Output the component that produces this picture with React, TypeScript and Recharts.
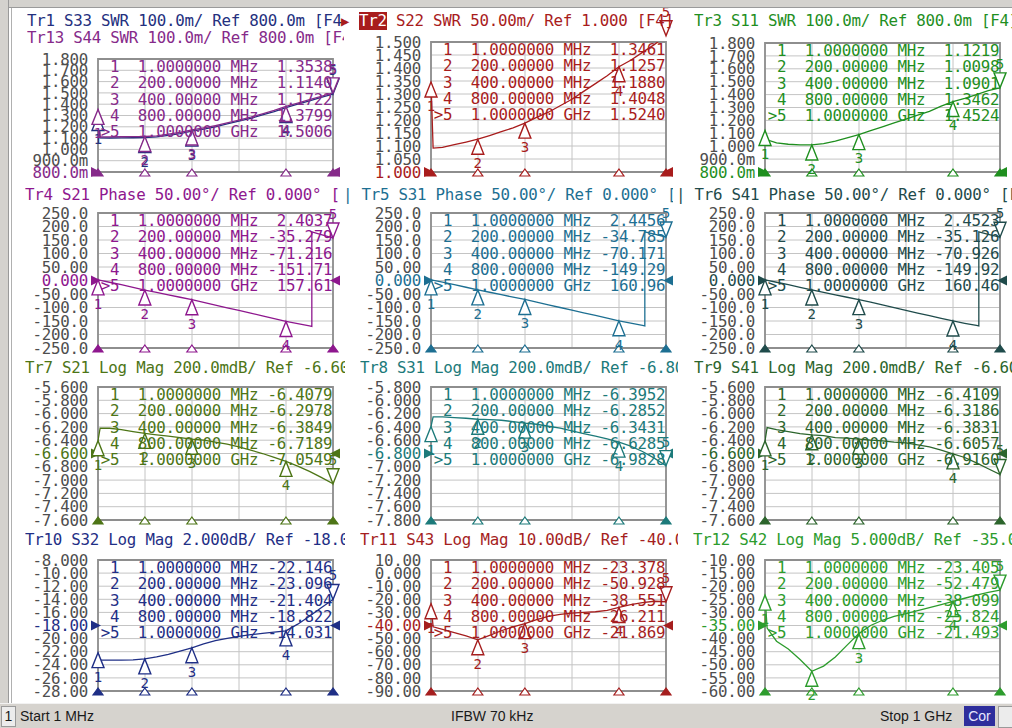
import React from 'react'
import { ComposedChart, Line, XAxis, YAxis, CartesianGrid, ReferenceArea, ReferenceDot } from 'recharts'

const MONO = '"DejaVu Sans Mono", monospace'
const SANS = '"Liberation Sans", Arial, sans-serif'
const FS = 15.8
const LS = -0.25
const CW = FS * 0.602 + LS

// sweep points, MHz
const freqs = [1, 10, 50, 100, 150, 200, 250, 300, 350, 400, 450, 500, 550, 600, 650, 700, 750, 800, 850, 900, 950, 1000]
const phaseFreqs = [1, 50, 100, 150, 200, 250, 300, 350, 400, 450, 500, 550, 600, 650, 700, 750, 800, 850, 900, 910, 910, 950, 1000]
const markerFreqs = [1, 200, 400, 800, 1000]
const markerFreqLabels = ['1.0000000 MHz', '200.00000 MHz', '400.00000 MHz', '800.00000 MHz', '1.0000000 GHz']
const xGrid = [1, 100.9, 200.8, 300.7, 400.6, 500.5, 600.4, 700.3, 800.2, 900.1, 1000]

// traces
const s33Swr = [1.30, 1.102, 1.101, 1.102, 1.103, 1.104, 1.11, 1.125, 1.14, 1.162, 1.18, 1.20, 1.225, 1.25, 1.275, 1.305, 1.335, 1.37, 1.40, 1.43, 1.46, 1.49]
const s44Swr = [1.354, 1.112, 1.111, 1.112, 1.113, 1.114, 1.12, 1.135, 1.15, 1.172, 1.19, 1.21, 1.235, 1.26, 1.285, 1.315, 1.345, 1.38, 1.41, 1.44, 1.47, 1.501]
const s22Swr = [1.346, 1.092, 1.095, 1.105, 1.115, 1.126, 1.14, 1.155, 1.17, 1.188, 1.21, 1.23, 1.255, 1.28, 1.31, 1.34, 1.37, 1.405, 1.43, 1.46, 1.49, 1.524]
const s11Swr = [1.122, 1.05, 1.025, 1.015, 1.01, 1.01, 1.02, 1.04, 1.065, 1.09, 1.12, 1.15, 1.18, 1.21, 1.24, 1.27, 1.31, 1.346, 1.37, 1.40, 1.43, 1.452]
const s21Phase = [2.4, -6.5, -15.5, -25.5, -35.3, -44, -53, -62, -71.2, -81, -91, -101, -111, -121, -131, -141, -151.7, -160, -168, -170, 180, 170, 157.6]
const s31Phase = [2.4, -6.3, -15.2, -25, -34.8, -43.5, -52.5, -61.5, -70.2, -80, -90, -100, -110, -120, -129.5, -139.5, -149.3, -158, -166, -168, 180, 172, 161]
const s41Phase = [2.5, -6.5, -15.5, -25.3, -35.1, -44, -53, -62, -70.9, -80.5, -90.5, -100.5, -110.5, -120.5, -130, -140, -149.9, -158.5, -166.5, -168.5, 180, 171, 160.5]
const s21Mag = [-6.408, -6.22, -6.22, -6.24, -6.27, -6.298, -6.32, -6.34, -6.36, -6.385, -6.40, -6.43, -6.46, -6.50, -6.55, -6.60, -6.66, -6.719, -6.79, -6.87, -6.96, -7.055]
const s31Mag = [-6.395, -6.25, -6.25, -6.26, -6.27, -6.285, -6.29, -6.30, -6.32, -6.343, -6.36, -6.39, -6.42, -6.46, -6.50, -6.54, -6.58, -6.629, -6.69, -6.77, -6.87, -6.983]
const s41Mag = [-6.411, -6.21, -6.24, -6.27, -6.30, -6.319, -6.33, -6.36, -6.37, -6.383, -6.40, -6.41, -6.43, -6.44, -6.47, -6.50, -6.55, -6.606, -6.66, -6.74, -6.83, -6.916]
const s32Mag = [-22.15, -23.3, -23.3, -23.3, -23.25, -23.1, -22.8, -22.4, -21.9, -21.4, -20.8, -20.3, -19.95, -19.65, -19.4, -19.2, -19.0, -18.82, -17.8, -16.6, -15.3, -14.03]
const s43Mag = [-23.38, -41, -43, -45.5, -48, -50.93, -47.5, -44, -41, -38.55, -35.5, -33, -31.5, -30.5, -30, -29.5, -28.5, -26.21, -24, -22.5, -21.5, -21.87]
const s42Mag = [-23.4, -36, -41, -44, -48, -52.48, -50.5, -47, -42.5, -38.1, -35, -33, -31.5, -30.5, -29.3, -28.2, -27, -25.82, -24.6, -23.4, -22.4, -21.49]

// marker readouts
const s33Markers = [1.30, 1.104, 1.162, 1.37, 1.49]
const s44Markers = [1.3538, 1.1140, 1.1722, 1.3799, 1.5006]
const s22Markers = [1.3461, 1.1257, 1.1880, 1.4048, 1.5240]
const s11Markers = [1.1219, 1.0098, 1.0901, 1.3462, 1.4524]
const s21PhMarkers = [2.4037, -35.279, -71.216, -151.71, 157.61]
const s31PhMarkers = [2.4456, -34.785, -70.171, -149.29, 160.96]
const s41PhMarkers = [2.4523, -35.126, -70.926, -149.92, 160.46]
const s21MagMarkers = [-6.4079, -6.2978, -6.3849, -6.7189, -7.0549]
const s31MagMarkers = [-6.3952, -6.2852, -6.3431, -6.6285, -6.9828]
const s41MagMarkers = [-6.4109, -6.3186, -6.3831, -6.6057, -6.9160]
const s32Markers = [-22.146, -23.096, -21.404, -18.822, -14.031]
const s43Markers = [-23.378, -50.928, -38.551, -26.211, -21.869]
const s42Markers = [-23.405, -52.479, -38.099, -25.824, -21.493]

// y scales
const swrTicks = [1.8, 1.7, 1.6, 1.5, 1.4, 1.3, 1.2, 1.1, 1.0, 0.9, 0.8]
const swrLabels = ['1.800', '1.700', '1.600', '1.500', '1.400', '1.300', '1.200', '1.100', '1.000', '900.0m', '800.0m']
const swr2Ticks = [1.5, 1.45, 1.4, 1.35, 1.3, 1.25, 1.2, 1.15, 1.1, 1.05, 1.0]
const swr2Labels = ['1.500', '1.450', '1.400', '1.350', '1.300', '1.250', '1.200', '1.150', '1.100', '1.050', '1.000']
const phaseTicks = [250, 200, 150, 100, 50, 0, -50, -100, -150, -200, -250]
const phaseLabels = ['250.0', '200.0', '150.0', '100.0', '50.00', '0.000', '-50.00', '-100.0', '-150.0', '-200.0', '-250.0']
const mag66Ticks = [-5.6, -5.8, -6.0, -6.2, -6.4, -6.6, -6.8, -7.0, -7.2, -7.4, -7.6]
const mag66Labels = ['-5.600', '-5.800', '-6.000', '-6.200', '-6.400', '-6.600', '-6.800', '-7.000', '-7.200', '-7.400', '-7.600']
const mag68Ticks = [-5.8, -6.0, -6.2, -6.4, -6.6, -6.8, -7.0, -7.2, -7.4, -7.6, -7.8]
const mag68Labels = ['-5.800', '-6.000', '-6.200', '-6.400', '-6.600', '-6.800', '-7.000', '-7.200', '-7.400', '-7.600', '-7.800']
const s32Ticks = [-8, -10, -12, -14, -16, -18, -20, -22, -24, -26, -28]
const s32Labels = ['-8.000', '-10.00', '-12.00', '-14.00', '-16.00', '-18.00', '-20.00', '-22.00', '-24.00', '-26.00', '-28.00']
const s43Ticks = [10, 0, -10, -20, -30, -40, -50, -60, -70, -80, -90]
const s43Labels = ['10.00', '0.000', '-10.00', '-20.00', '-30.00', '-40.00', '-50.00', '-60.00', '-70.00', '-80.00', '-90.00']
const s42Ticks = [-10, -15, -20, -25, -30, -35, -40, -45, -50, -55, -60]
const s42Labels = ['-10.00', '-15.00', '-20.00', '-25.00', '-30.00', '-35.00', '-40.00', '-45.00', '-50.00', '-55.00', '-60.00']

const toPoints = (fs: number[], vs: number[]) => fs.map((f, i) => ({ f, v: vs[i] }))

const C = {
  navy: '#24307e', purple: '#862a8a', red: '#a81c1c', green: '#1f8f1f', ph4: '#8e178e', ph5: '#1d6f92',
  ph6: '#1f4b4b', m7: '#4d7516', m8: '#1c7a7a', m9: '#2c652c', m10: '#1f2f86', m11: '#a51e1e', m12: '#2d9c2d'
}

const COLS = [98, 431, 765]
const W = 235

type Trace = { f: number[]; v: number[]; color: string }
type PanelCfg = {
  x: number; top: number; bottom: number; ticks: number[]; labels: string[]; refLevel: number
  color: string; traces: Trace[]; markers: number[]; extra?: { values: number[]; color: string }
}

const panels: PanelCfg[] = [
  { x: COLS[0], top: 59, bottom: 172, ticks: swrTicks, labels: swrLabels, refLevel: 0.8, color: C.purple,
    traces: [{ f: freqs, v: s33Swr, color: C.navy }, { f: freqs, v: s44Swr, color: C.purple }],
    markers: s44Markers, extra: { values: s33Markers, color: C.navy } },
  { x: COLS[1], top: 42, bottom: 172, ticks: swr2Ticks, labels: swr2Labels, refLevel: 1.0, color: C.red,
    traces: [{ f: freqs, v: s22Swr, color: C.red }], markers: s22Markers },
  { x: COLS[2], top: 43, bottom: 172, ticks: swrTicks, labels: swrLabels, refLevel: 0.8, color: C.green,
    traces: [{ f: freqs, v: s11Swr, color: C.green }], markers: s11Markers },
  { x: COLS[0], top: 213, bottom: 348, ticks: phaseTicks, labels: phaseLabels, refLevel: 0, color: C.ph4,
    traces: [{ f: phaseFreqs, v: s21Phase, color: C.ph4 }], markers: s21PhMarkers },
  { x: COLS[1], top: 213, bottom: 348, ticks: phaseTicks, labels: phaseLabels, refLevel: 0, color: C.ph5,
    traces: [{ f: phaseFreqs, v: s31Phase, color: C.ph5 }], markers: s31PhMarkers },
  { x: COLS[2], top: 213, bottom: 348, ticks: phaseTicks, labels: phaseLabels, refLevel: 0, color: C.ph6,
    traces: [{ f: phaseFreqs, v: s41Phase, color: C.ph6 }], markers: s41PhMarkers },
  { x: COLS[0], top: 387, bottom: 520, ticks: mag66Ticks, labels: mag66Labels, refLevel: -6.6, color: C.m7,
    traces: [{ f: freqs, v: s21Mag, color: C.m7 }], markers: s21MagMarkers },
  { x: COLS[1], top: 387, bottom: 520, ticks: mag68Ticks, labels: mag68Labels, refLevel: -6.8, color: C.m8,
    traces: [{ f: freqs, v: s31Mag, color: C.m8 }], markers: s31MagMarkers },
  { x: COLS[2], top: 387, bottom: 520, ticks: mag66Ticks, labels: mag66Labels, refLevel: -6.6, color: C.m9,
    traces: [{ f: freqs, v: s41Mag, color: C.m9 }], markers: s41MagMarkers },
  { x: COLS[0], top: 560, bottom: 691, ticks: s32Ticks, labels: s32Labels, refLevel: -18, color: C.m10,
    traces: [{ f: freqs, v: s32Mag, color: C.m10 }], markers: s32Markers },
  { x: COLS[1], top: 560, bottom: 691, ticks: s43Ticks, labels: s43Labels, refLevel: -40, color: C.m11,
    traces: [{ f: freqs, v: s43Mag, color: C.m11 }], markers: s43Markers },
  { x: COLS[2], top: 560, bottom: 691, ticks: s42Ticks, labels: s42Labels, refLevel: -35, color: C.m12,
    traces: [{ f: freqs, v: s42Mag, color: C.m12 }], markers: s42Markers }
]

type TitleCfg = { x: number; y: number; clip: number; text: string; color: string; box?: string }
const titles: TitleCfg[] = [
  { x: 27, y: 21, clip: 344, text: 'Tr1 S33 SWR 100.0m/ Ref 800.0m [F4]', color: C.navy },
  { x: 27, y: 38, clip: 344, text: 'Tr13 S44 SWR 100.0m/ Ref 800.0m [F4]', color: C.purple },
  { x: 359, y: 21, clip: 677, text: 'Tr2 S22 SWR 50.00m/ Ref 1.000 [F4]', color: C.red, box: 'Tr2' },
  { x: 694, y: 21, clip: 1012, text: 'Tr3 S11 SWR 100.0m/ Ref 800.0m [F4]', color: C.green },
  { x: 25, y: 195, clip: 340, text: 'Tr4 S21 Phase 50.00°/ Ref 0.000° [F4]', color: C.ph4 },
  { x: 343, y: 195, clip: 673, text: '| Tr5 S31 Phase 50.00°/ Ref 0.000° [F4]', color: C.ph5 },
  { x: 676, y: 195, clip: 1012, text: '| Tr6 S41 Phase 50.00°/ Ref 0.000° [F4]', color: C.ph6 },
  { x: 25, y: 368, clip: 345, text: 'Tr7 S21 Log Mag 200.0mdB/ Ref -6.600dB', color: C.m7 },
  { x: 360, y: 368, clip: 678, text: 'Tr8 S31 Log Mag 200.0mdB/ Ref -6.800dB', color: C.m8 },
  { x: 694, y: 368, clip: 1012, text: 'Tr9 S41 Log Mag 200.0mdB/ Ref -6.600dB', color: C.m9 },
  { x: 25, y: 540, clip: 345, text: 'Tr10 S32 Log Mag 2.000dB/ Ref -18.00dB', color: C.m10 },
  { x: 360, y: 540, clip: 678, text: 'Tr11 S43 Log Mag 10.00dB/ Ref -40.00dB', color: C.m11 },
  { x: 693, y: 540, clip: 1012, text: 'Tr12 S42 Log Mag 5.000dB/ Ref -35.00dB', color: C.m12 }
]

const markerShape = (n: number, color: string, active: boolean) => (props: any) => {
  const { cx, cy } = props
  if (cx == null || cy == null) return <g />
  const dir = active ? -1 : 1
  const base = cy + dir * 15
  return (
    <g>
      <path d={`M${cx},${cy}L${cx - 6},${base}L${cx + 6},${base}Z`} fill="#fff" stroke={color} strokeWidth={1.4} />
      <text x={cx} y={cy + dir * 24} dy="0.35em" textAnchor="middle" fontFamily={MONO} fontSize={14} fill={color}>{n}</text>
    </g>
  )
}

const refArrow = (color: string, side: 'l' | 'r') => (props: any) => {
  const { cx, cy } = props
  const d = side === 'l'
    ? `M${cx - 7},${cy - 5}L${cx + 3},${cy}L${cx - 7},${cy + 5}Z`
    : `M${cx + 7},${cy - 5}L${cx - 3},${cy}L${cx + 7},${cy + 5}Z`
  return <path d={d} fill={color} />
}

const stimTick = (color: string, filled: boolean) => (props: any) => {
  const { cx, cy } = props
  return <path d={`M${cx},${cy - 3}L${cx - 5},${cy + 4}L${cx + 5},${cy + 4}Z`} fill={filled ? color : '#fff'} stroke={color} strokeWidth={1.2} />
}

function Panel ({ p }: { p: PanelCfg }) {
  const h = p.bottom - p.top
  const ML = 90
  const MT = 34
  const MR = 14
  const MB = 14
  const domain = [Math.min(...p.ticks), Math.max(...p.ticks)]
  const renderTick = (props: any) => {
    const { x, y, payload, index } = props
    let i = p.ticks.indexOf(payload.value)
    if (i < 0) i = index
    const isRef = payload.value === p.refLevel
    return (
      <text x={x - 2} y={y} dy="0.36em" textAnchor="end" fontFamily={MONO} fontSize={FS} letterSpacing={LS}
        fill={isRef ? p.color : '#4e4e4e'}>
        {p.labels[i]}
      </text>
    )
  }
  return (
    <div style={{ position: 'absolute', left: p.x - ML, top: p.top - MT }}>
      <ComposedChart width={W + ML + MR} height={h + MT + MB} margin={{ top: MT, right: MR, bottom: MB, left: ML - 80 }}>
        <CartesianGrid stroke="#c4c4c4" strokeWidth={1} horizontalValues={p.ticks} verticalValues={xGrid} />
        <XAxis type="number" dataKey="f" domain={[1, 1000]} hide allowDataOverflow />
        <YAxis type="number" dataKey="v" domain={domain} ticks={p.ticks} interval={0} allowDataOverflow width={80}
          axisLine={false} tickLine={false} tick={renderTick} />
        <ReferenceArea x1={1} x2={1000} y1={domain[0]} y2={domain[1]} fill="none" stroke="#8e8e8e" strokeWidth={1.8} />
        {p.traces.map((t, i) => (
          <Line key={i} data={toPoints(t.f, t.v)} dataKey="v" type="linear" stroke={t.color} strokeWidth={1.3}
            dot={false} isAnimationActive={false} />
        ))}
        {markerFreqs.map((f, i) => (
          <ReferenceDot key={'s' + i} x={f} y={domain[0]} ifOverflow="visible" shape={stimTick(p.color, i === 0 || i === 4)} />
        ))}
        <ReferenceDot x={1} y={p.refLevel} ifOverflow="visible" shape={refArrow(p.color, 'l')} />
        <ReferenceDot x={1000} y={p.refLevel} ifOverflow="visible" shape={refArrow(p.color, 'r')} />
        {p.extra && markerFreqs.map((f, i) => (
          <ReferenceDot key={'e' + i} x={f} y={p.extra!.values[i]} ifOverflow="visible" shape={markerShape(i + 1, p.extra!.color, i === 4)} />
        ))}
        {markerFreqs.map((f, i) => (
          <ReferenceDot key={'m' + i} x={f} y={p.markers[i]} ifOverflow="visible" shape={markerShape(i + 1, p.color, i === 4)} />
        ))}
      </ComposedChart>
      {markerFreqLabels.map((fl, i) => {
        const active = i === 4
        const txt = `${active ? '>' : ''}${i + 1}  ${fl} ${p.markers[i].toPrecision(5).padStart(7)}`
        const left = ML + 12 - (active ? CW : 0)
        return (
          <div key={i} style={{
            position: 'absolute', left, top: MT + 8 + i * 16.3 - 9, width: ML + W + 2 - left, height: 18,
            overflow: 'hidden', whiteSpace: 'pre', fontFamily: MONO, fontSize: FS, letterSpacing: LS,
            lineHeight: '18px', color: p.color
          }}>{txt}</div>
        )
      })}
    </div>
  )
}

function Title ({ t }: { t: TitleCfg }) {
  const rest = t.box ? t.text.slice(t.box.length) : t.text
  return (
    <div style={{
      position: 'absolute', left: t.x, top: t.y - 9, width: t.clip - t.x, height: 18, overflow: 'hidden',
      whiteSpace: 'pre', fontFamily: MONO, fontSize: FS, letterSpacing: LS, lineHeight: '18px', color: t.color
    }}>
      {t.box && <span style={{ background: t.color, color: '#fff' }}>{t.box}</span>}
      {rest}
    </div>
  )
}

export default function App () {
  return (
    <div style={{ position: 'absolute', left: 0, top: 0, width: 1012, height: 728, background: '#fff', overflow: 'hidden' }}>
      <div style={{ position: 'absolute', left: 0, top: 0, width: 1012, height: 7, background: '#d4d2ce', borderBottom: '1px solid #9a9a9a' }} />
      <div style={{ position: 'absolute', left: 0, top: 0, width: 8, height: 703, background: '#d4d2ce', borderRight: '1px solid #9a9a9a' }} />
      <div style={{ position: 'absolute', left: 11, top: 8, width: 1, height: 695, background: '#b0b0b0' }} />
      {panels.map((p, i) => <Panel key={i} p={p} />)}
      {titles.map((t, i) => <Title key={i} t={t} />)}
      <div style={{ position: 'absolute', left: 341, top: 12, fontFamily: MONO, fontSize: 14, lineHeight: '18px', color: C.red }}>▶</div>
      <div style={{ position: 'absolute', left: 0, top: 703, width: 1012, height: 25, background: '#d6d3ce', borderTop: '1px solid #f2f2f2', fontFamily: SANS, fontSize: 14, color: '#1a1a1a' }}>
        <div style={{ position: 'absolute', left: 1, top: 2, width: 13, height: 19, background: '#ececec', border: '1px solid #9a9a9a', textAlign: 'center', lineHeight: '19px' }}>1</div>
        <div style={{ position: 'absolute', left: 20, top: 4, lineHeight: '17px' }}>Start 1 MHz</div>
        <div style={{ position: 'absolute', left: 451, top: 4, lineHeight: '17px' }}>IFBW 70 kHz</div>
        <div style={{ position: 'absolute', left: 880, top: 4, lineHeight: '17px' }}>Stop 1 GHz</div>
        <div style={{ position: 'absolute', left: 964, top: 2, width: 31, height: 20, background: '#2e2e9c', color: '#e8e8ff', textAlign: 'center', lineHeight: '20px' }}>Cor</div>
        <div style={{ position: 'absolute', left: 998, top: 2, width: 14, height: 20, background: '#ececec', border: '1px solid #9a9a9a' }} />
      </div>
    </div>
  )
}
